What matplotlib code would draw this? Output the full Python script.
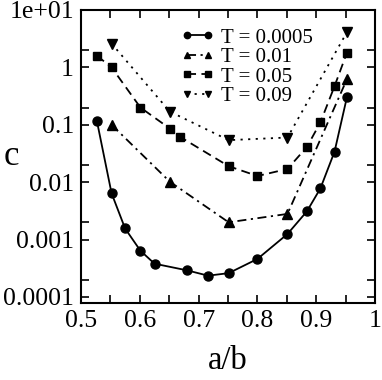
import matplotlib
matplotlib.use("Agg")
import matplotlib.pyplot as plt
from matplotlib.ticker import FixedLocator, NullFormatter, MultipleLocator

plt.rcParams['font.family'] = ['Liberation Serif', 'DejaVu Serif']

# Data
x_t0005 = [0.527, 0.552, 0.575, 0.601, 0.625, 0.681, 0.716, 0.751, 0.800, 0.851, 0.884, 0.907, 0.931, 0.952]
c_t0005 = [0.117, 0.0064, 0.00156, 0.00064, 0.00038, 0.00029, 0.000235, 0.00026, 0.00046, 0.00125, 0.0031, 0.0078, 0.034, 0.30]

x_t001 = [0.552, 0.651, 0.751, 0.851, 0.952]
c_t001 = [0.10, 0.0102, 0.0020, 0.0028, 0.62]

x_t005 = [0.527, 0.552, 0.601, 0.651, 0.668, 0.751, 0.800, 0.851, 0.884, 0.907, 0.931, 0.952]
c_t005 = [1.6, 1.0, 0.20, 0.086, 0.062, 0.019, 0.0128, 0.017, 0.041, 0.11, 0.47, 1.8]

x_t009 = [0.552, 0.651, 0.751, 0.851, 0.952]
c_t009 = [2.6, 0.17, 0.054, 0.060, 4.1]

labels = ['T = 0.0005', 'T = 0.01', 'T = 0.05', 'T = 0.09']
yticks = [1e-4, 1e-3, 1e-2, 1e-1, 1, 10]
ytick_labels = ['0.0001', '0.001', '0.01', '0.1', '1', '1e+01']
xticks = [0.5, 0.6, 0.7, 0.8, 0.9, 1.0]
xtick_labels = ['0.5', '0.6', '0.7', '0.8', '0.9', '1']

fig = plt.figure(figsize=(3.82, 3.80), dpi=100)
ax = fig.add_axes([0.212, 0.2034, 0.770, 0.7703])

lw = 1.3
ms = 6.5
ax.plot(x_t0005, c_t0005, '-', color='black', marker='o', ms=ms, lw=lw, label=labels[0])
ax.plot(x_t001, c_t001, color='black', marker='^', ms=ms, lw=lw, dashes=(5, 2.5, 1.2, 2.5), label=labels[1])
ax.plot(x_t005, c_t005, color='black', marker='s', ms=ms * 0.9, lw=lw, dashes=(5, 3), label=labels[2])
ax.plot(x_t009, c_t009, color='black', marker='v', ms=ms, lw=lw, dashes=(1.2, 3), label=labels[3])

ax.set_yscale('log')
ax.set_xlim(0.5, 1.0)
ax.set_ylim(10 ** -4.1, 10)

ax.yaxis.set_major_locator(FixedLocator(yticks))
ax.set_yticklabels(ytick_labels)
ax.yaxis.set_minor_locator(FixedLocator([2e-4, 2e-3, 2e-2, 2e-1, 2]))
ax.yaxis.set_minor_formatter(NullFormatter())
ax.xaxis.set_major_locator(FixedLocator(xticks))
ax.set_xticklabels(xtick_labels)
ax.xaxis.set_minor_locator(MultipleLocator(0.05))

ax.tick_params(which='both', direction='in', top=True, right=True, length=6, width=1.2, labelsize=18.5, pad=5)
for s in ax.spines.values():
    s.set_linewidth(1.5)

ax.set_xlabel('a/b', fontsize=23.5, labelpad=10)
ax.set_ylabel('c', fontsize=25, rotation=0, labelpad=8, va='center')
ax.yaxis.set_label_coords(-0.235, 0.50)

leg = ax.legend(loc='upper left', bbox_to_anchor=(0.34, 0.9385), frameon=False, fontsize=15,
                handlelength=1.6, handletextpad=0.3, labelspacing=0.0, borderpad=0.0,
                borderaxespad=0.0, markerscale=0.7, numpoints=2)

fig.savefig('out.png', dpi=100)
